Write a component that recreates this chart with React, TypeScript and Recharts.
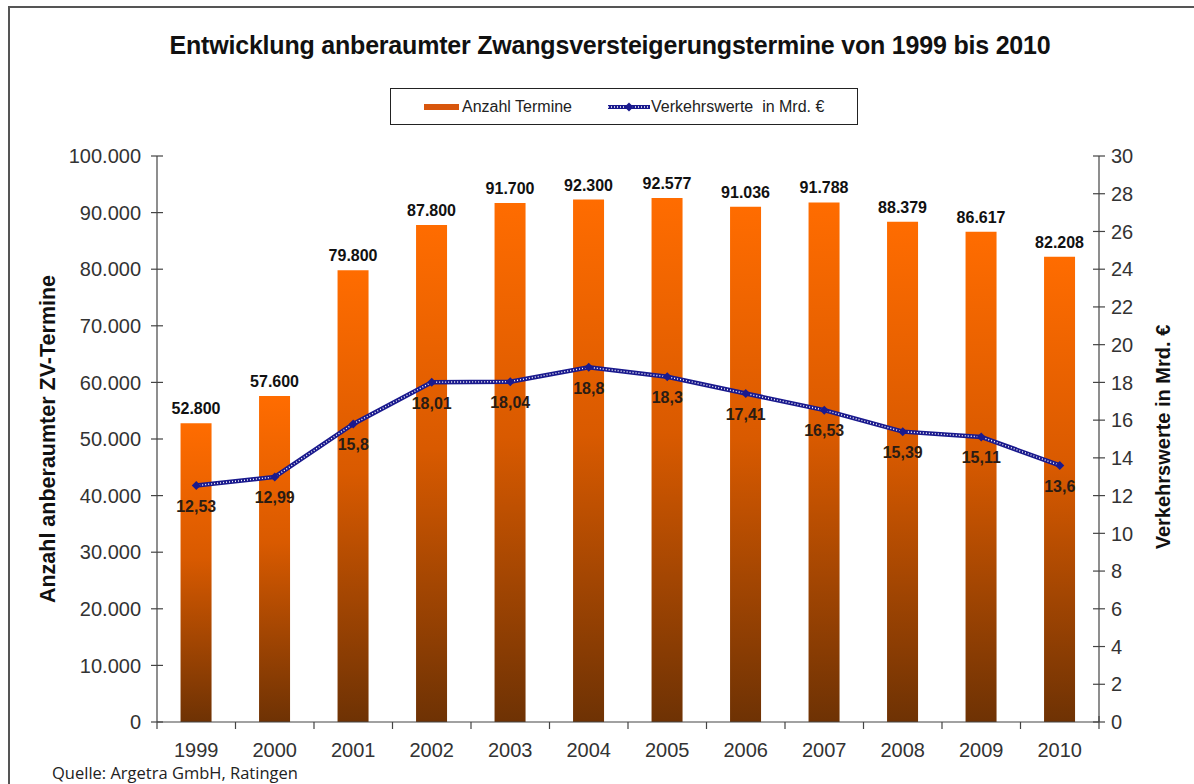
import React from 'react';
import {
  ComposedChart,
  Bar,
  Line,
  XAxis,
  YAxis,
  LabelList,
  Label,
} from 'recharts';

const years = ['1999', '2000', '2001', '2002', '2003', '2004', '2005', '2006', '2007', '2008', '2009', '2010'];
const termine = [52800, 57600, 79800, 87800, 91700, 92300, 92577, 91036, 91788, 88379, 86617, 82208];
const verkehrswerte = [12.53, 12.99, 15.8, 18.01, 18.04, 18.8, 18.3, 17.41, 16.53, 15.39, 15.11, 13.6];
const leftTicks = [0, 10000, 20000, 30000, 40000, 50000, 60000, 70000, 80000, 90000, 100000];
const rightTicks = [0, 2, 4, 6, 8, 10, 12, 14, 16, 18, 20, 22, 24, 26, 28, 30];

const data = years.map((year, i) => ({ year, termine: termine[i], wert: verkehrswerte[i] }));

const FONT = '"Liberation Sans", Arial, sans-serif';
const AXIS = '#444';
const NAVY = '#1a1a8e';
const BAND = 942 / 12;

const fmtThousands = (v: number) =>
  v >= 1000 ? `${Math.floor(v / 1000)}.${String(v % 1000).padStart(3, '0')}` : String(v);
const fmtDecimal = (v: number) => String(v).replace('.', ',');

const LeftTick = (props: any) => {
  const { x, y, payload } = props;
  return (
    <g>
      <line x1={x - 6} x2={x + 6} y1={y} y2={y} stroke={AXIS} strokeWidth={1.2} />
      <text x={x - 16} y={y} dy="0.36em" textAnchor="end" fontSize={20} fill="#333" fontFamily={FONT}>
        {fmtThousands(payload.value)}
      </text>
    </g>
  );
};

const RightTick = (props: any) => {
  const { x, y, payload } = props;
  return (
    <g>
      <line x1={x - 6} x2={x + 6} y1={y} y2={y} stroke={AXIS} strokeWidth={1.2} />
      <text x={x + 12} y={y} dy="0.36em" textAnchor="start" fontSize={20} fill="#333" fontFamily={FONT}>
        {payload.value}
      </text>
    </g>
  );
};

const XTick = (props: any) => {
  const { x, y, payload, index } = props;
  return (
    <g>
      <line x1={x - BAND / 2} x2={x - BAND / 2} y1={y} y2={y + 7} stroke={AXIS} strokeWidth={1.2} />
      {index === years.length - 1 && (
        <line x1={x + BAND / 2} x2={x + BAND / 2} y1={y - 6} y2={y + 7} stroke={AXIS} strokeWidth={1.2} />
      )}
      <text x={x} y={y + 35} textAnchor="middle" fontSize={20} fill="#333" fontFamily={FONT}>
        {payload.value}
      </text>
    </g>
  );
};

const Diamond = (props: any) => {
  const { cx, cy } = props;
  if (cx == null || cy == null) return null;
  return <polygon points={`${cx},${cy - 4.5} ${cx + 4.5},${cy} ${cx},${cy + 4.5} ${cx - 4.5},${cy}`} fill={NAVY} />;
};

export default function App() {
  return (
    <div
      style={{
        position: 'absolute',
        left: 0,
        top: 0,
        width: 1194,
        height: 784,
        background: '#fff',
        overflow: 'hidden',
        fontFamily: FONT,
      }}
    >
      <div
        style={{
          position: 'absolute',
          left: 8,
          top: 6,
          width: 1200,
          height: 820,
          border: '2px solid #555',
          boxSizing: 'border-box',
        }}
      />
      <div
        style={{
          position: 'absolute',
          left: 0,
          width: 1194,
          top: 31,
          textAlign: 'center',
          fontSize: 25,
          fontWeight: 'bold',
          letterSpacing: -0.2,
          color: '#111',
          paddingLeft: 26,
          boxSizing: 'border-box',
        }}
      >
        Entwicklung anberaumter Zwangsversteigerungstermine von 1999 bis 2010
      </div>
      <div
        style={{
          position: 'absolute',
          left: 390,
          top: 88,
          width: 468,
          height: 37,
          border: '1px solid #222',
          boxSizing: 'border-box',
          display: 'flex',
          alignItems: 'center',
          fontSize: 16,
          color: '#222',
        }}
      >
        <span style={{ display: 'inline-block', width: 35, height: 6, marginLeft: 33, background: '#d8560c' }} />
        <span style={{ marginLeft: 3 }}>Anzahl Termine</span>
        <svg width={42} height={12} style={{ marginLeft: 36 }}>
          <line x1={0} x2={42} y1={6} y2={6} stroke={NAVY} strokeWidth={4} />
          <line x1={0} x2={42} y1={6} y2={6} stroke="#fff" strokeWidth={1.3} strokeDasharray="1 2" />
          <polygon points="21,1.5 25.5,6 21,10.5 16.5,6" fill={NAVY} />
        </svg>
        <span style={{ marginLeft: 1 }}>Verkehrswerte&nbsp; in Mrd. €</span>
      </div>
      <div
        style={{
          position: 'absolute',
          left: 52,
          top: 764,
          fontSize: 16.5,
          lineHeight: '18px',
          fontFamily: '"Open Sans", sans-serif',
          color: '#222',
        }}
      >
        Quelle: Argetra GmbH, Ratingen
      </div>
      <div style={{ position: 'absolute', left: 0, top: 0 }}>
        <ComposedChart
          width={1194}
          height={784}
          data={data}
          margin={{ top: 156, right: 0, bottom: 0, left: 0 }}
          barCategoryGap="30%"
        >
          <defs>
            <linearGradient id="barGrad" x1="0" y1="0" x2="0" y2="1">
              <stop offset="0%" stopColor="#ff6c00" />
              <stop offset="45%" stopColor="#d95a00" />
              <stop offset="100%" stopColor="#6e3204" />
            </linearGradient>
          </defs>
          <XAxis
            dataKey="year"
            height={62}
            interval={0}
            axisLine={{ stroke: AXIS, strokeWidth: 1.2 }}
            tickLine={false}
            tickSize={0}
            tickMargin={0}
            tick={XTick}
          />
          <YAxis
            yAxisId="left"
            domain={[0, 100000]}
            ticks={leftTicks}
            width={157}
            axisLine={{ stroke: AXIS, strokeWidth: 1.2 }}
            tickLine={false}
            tickSize={0}
            tickMargin={0}
            tick={LeftTick}
            interval={0}
          >
            <Label
              content={() => {
                const cy = 439;
                return (
                  <text
                    x={47}
                    y={cy}
                    transform={`rotate(-90 47 ${cy})`}
                    textAnchor="middle"
                    dy="0.36em"
                    fontSize={21.5}
                    fontWeight="bold"
                    fill="#111"
                    fontFamily={FONT}
                  >
                    Anzahl anberaumter ZV-Termine
                  </text>
                );
              }}
            />
          </YAxis>
          <YAxis
            yAxisId="right"
            orientation="right"
            domain={[0, 30]}
            ticks={rightTicks}
            width={95}
            axisLine={{ stroke: AXIS, strokeWidth: 1.2 }}
            tickLine={false}
            tickSize={0}
            tickMargin={0}
            tick={RightTick}
            interval={0}
          >
            <Label
              content={() => {
                const cy = 437;
                return (
                  <text
                    x={1163}
                    y={cy}
                    transform={`rotate(-90 1163 ${cy})`}
                    textAnchor="middle"
                    dy="0.36em"
                    fontSize={20}
                    fontWeight="bold"
                    fill="#111"
                    fontFamily={FONT}
                  >
                    Verkehrswerte in Mrd. €
                  </text>
                );
              }}
            />
          </YAxis>
          <Bar yAxisId="left" dataKey="termine" fill="url(#barGrad)" isAnimationActive={false}>
            <LabelList
              dataKey="termine"
              position="top"
              offset={9}
              formatter={(v: any) => fmtThousands(Number(v))}
              style={{ fontSize: 16, fontWeight: 'bold', fill: '#111', fontFamily: FONT }}
            />
          </Bar>
          <Line
            yAxisId="right"
            dataKey="wert"
            stroke={NAVY}
            strokeWidth={4.5}
            dot={<Diamond />}
            activeDot={false}
            isAnimationActive={false}
          >
            <LabelList
              dataKey="wert"
              position="bottom"
              offset={15}
              formatter={(v: any) => fmtDecimal(Number(v))}
              style={{ fontSize: 16, fontWeight: 'bold', fill: '#2a1c14', fontFamily: FONT }}
            />
          </Line>
          <Line
            yAxisId="right"
            dataKey="wert"
            stroke="#ffffff"
            strokeWidth={1.4}
            strokeDasharray="1 2"
            dot={false}
            activeDot={false}
            legendType="none"
            isAnimationActive={false}
          />
        </ComposedChart>
      </div>
    </div>
  );
}
